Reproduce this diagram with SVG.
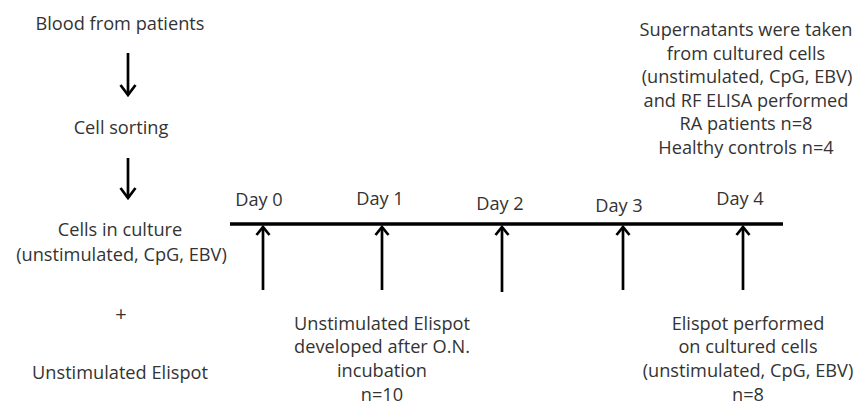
<svg xmlns="http://www.w3.org/2000/svg" width="858" height="405" viewBox="0 0 858 405">
<defs>
<style>
text{font-family:"Open Sans","Liberation Sans",sans-serif;font-size:18.2px;fill:#333;text-anchor:middle}
.ln{stroke:#000;stroke-width:3.5;fill:none}
.ar{stroke:#000;stroke-width:2.7;fill:none}
</style>
<marker id="ah" viewBox="0 0 12 16" refX="10" refY="8" markerWidth="12" markerHeight="16" markerUnits="userSpaceOnUse" orient="auto">
<path d="M2,1.5 L10,8 L2,14.5" fill="none" stroke="#000" stroke-width="2.7"/>
</marker>
<marker id="ahl" viewBox="0 0 14 18" refX="12" refY="9" markerWidth="14" markerHeight="18" markerUnits="userSpaceOnUse" orient="auto">
<path d="M2,1.5 L12,9 L2,16.5" fill="none" stroke="#000" stroke-width="2.7"/>
</marker>
</defs>
<rect width="858" height="405" fill="#fff"/>
<g id="blood"><text x="120" y="30">Blood from patients</text></g>
<g id="sorting"><text x="121" y="134">Cell sorting</text></g>
<g id="culture"><text x="120" y="236">Cells in culture</text><text x="121.5" y="261">(unstimulated, CpG, EBV)</text></g>
<g id="plus"><text x="121" y="321" style="font-size:20px">+</text></g>
<g id="elispot0"><text x="120" y="379">Unstimulated Elispot</text></g>
<g id="supernatants">
<text x="746" y="36">Supernatants were taken</text>
<text x="746" y="59.5">from cultured cells</text>
<text x="747" y="83">(unstimulated, CpG, EBV)</text>
<text x="746" y="106.5">and RF ELISA performed</text>
<text x="746" y="130">RA patients n=8</text>
<text x="746" y="153.5">Healthy controls n=4</text>
</g>
<g id="days">
<text x="259" y="206">Day 0</text>
<text x="380" y="205">Day 1</text>
<text x="500" y="210">Day 2</text>
<text x="619" y="212">Day 3</text>
<text x="740" y="205">Day 4</text>
</g>
<g id="day1note">
<text x="382" y="330">Unstimulated Elispot</text>
<text x="382" y="353">developed after O.N.</text>
<text x="382" y="377">incubation</text>
<text x="382" y="401">n=10</text>
</g>
<g id="day4note">
<text x="748" y="330">Elispot performed</text>
<text x="748" y="353">on cultured cells</text>
<text x="748" y="377">(unstimulated, CpG, EBV)</text>
<text x="748" y="401">n=8</text>
</g>
<g id="connectors">
<line class="ln" x1="230" y1="224" x2="783" y2="224"/>
<line class="ar" x1="128" y1="53" x2="128" y2="95" marker-end="url(#ahl)"/>
<line class="ar" x1="128" y1="158" x2="128" y2="198" marker-end="url(#ahl)"/>
<line class="ar" x1="263" y1="290" x2="263" y2="227" marker-end="url(#ah)"/>
<line class="ar" x1="382" y1="290" x2="382" y2="227" marker-end="url(#ah)"/>
<line class="ar" x1="502" y1="292" x2="502" y2="227" marker-end="url(#ah)"/>
<line class="ar" x1="623" y1="290" x2="623" y2="227" marker-end="url(#ah)"/>
<line class="ar" x1="743" y1="290" x2="743" y2="227" marker-end="url(#ah)"/>
</g>
</svg>
